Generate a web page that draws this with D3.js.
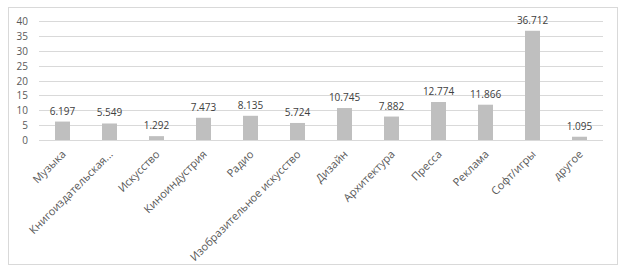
<!DOCTYPE html>
<html lang="ru">
<head>
<meta charset="UTF-8">
<title>Chart</title>
<style>
  body { margin: 0; background: #fff; }
  svg { display: block; font-family: "Open Sans", "Liberation Sans", sans-serif; }
</style>
</head>
<body>
<svg width="624" height="270"></svg>
<script src="https://d3js.org/d3.v7.min.js"></script>
<script>
const categories = ["Музыка", "Книгоиздательская...", "Искусство", "Киноиндустрия", "Радио",
  "Изобразительное искусство", "Дизайн", "Архитектура", "Пресса", "Реклама", "Софт/игры", "другое"];
const values = [6.197, 5.549, 1.292, 7.473, 8.135, 5.724, 10.745, 7.882, 12.774, 11.866, 36.712, 1.095];
const yTicks = [0, 5, 10, 15, 20, 25, 30, 35, 40];

const svg = d3.select("svg");

// outer frame
svg.append("rect")
  .attr("x", 8.5).attr("y", 7.5)
  .attr("width", 609).attr("height", 257)
  .attr("fill", "#fff").attr("stroke", "#d9d9d9");

const plotL = 39, plotR = 603, plotT = 21, plotB = 140;

const x = d3.scaleBand().domain(categories).range([plotL, plotR]);
const y = d3.scaleLinear().domain([0, 40]).range([plotB, plotT]);

// gridlines
svg.append("g").selectAll("line")
  .data(yTicks)
  .enter().append("line")
  .attr("x1", plotL).attr("x2", plotR)
  .attr("y1", d => Math.round(y(d)) + 0.5)
  .attr("y2", d => Math.round(y(d)) + 0.5)
  .attr("stroke", "#d9d9d9");

// y tick labels
svg.append("g").selectAll("text")
  .data(yTicks)
  .enter().append("text")
  .attr("x", 28)
  .attr("y", d => y(d) + 4)
  .attr("text-anchor", "end")
  .attr("font-size", 10)
  .attr("fill", "#595959")
  .text(d => d);

const barW = 15;

svg.append("g").selectAll("rect")
  .data(values)
  .enter().append("rect")
  .attr("x", (d, i) => x(categories[i]) + x.bandwidth() / 2 - barW / 2)
  .attr("y", d => y(d))
  .attr("width", barW)
  .attr("height", d => plotB - y(d))
  .attr("fill", "#bfbfbf");

// value labels
svg.append("g").selectAll("text")
  .data(values)
  .enter().append("text")
  .attr("x", (d, i) => x(categories[i]) + x.bandwidth() / 2)
  .attr("y", d => y(d) - 7)
  .attr("text-anchor", "middle")
  .attr("font-size", 10)
  .attr("fill", "#404040")
  .text(d => d.toFixed(3));

// category labels
svg.append("g").selectAll("text")
  .data(categories)
  .enter().append("text")
  .attr("transform", d => `translate(${x(d) + x.bandwidth() / 2 + 4},${plotB + 15}) rotate(-45)`)
  .attr("text-anchor", "end")
  .attr("font-size", 11)
  .attr("fill", "#595959")
  .text(d => d);
</script>
</body>
</html>
